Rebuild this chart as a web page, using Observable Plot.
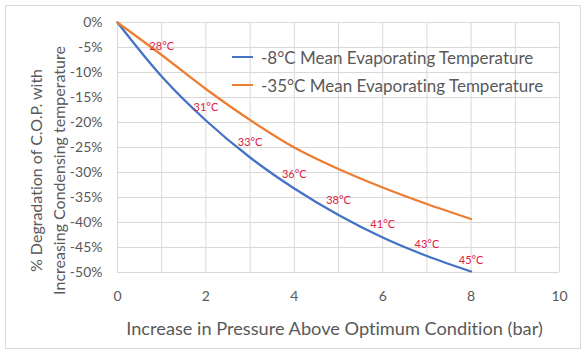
<!DOCTYPE html>
<html><head><meta charset="utf-8">
<script src="https://cdn.jsdelivr.net/npm/d3@7"></script>
<script src="https://cdn.jsdelivr.net/npm/@observablehq/plot@0.6"></script>
<style>
body{margin:0;background:#fff;}
#wrap{position:relative;width:588px;height:354px;overflow:hidden;font-family:Lato,sans-serif;font-variant-ligatures:none;}
#wrap svg text{font-variant-ligatures:none;}
#frame{position:absolute;left:5px;top:5px;width:576px;height:344px;border:1px solid #d9d9d9;box-sizing:border-box;}
#chart{position:absolute;left:0;top:0;}
.lg{position:absolute;left:232px;height:22px;display:flex;align-items:center;color:#595959;font-size:17px;white-space:nowrap;}
.sw{display:inline-block;width:21px;height:2px;margin-right:8px;}
</style></head><body>
<div id="wrap"><div id="frame"></div><div id="chart"></div><div id="legend"></div></div>
<script>
const pressure = [0, 1, 2, 3, 4, 5, 6, 7, 8];
const copEvapMinus8 = [0, -0.108, -0.196, -0.270, -0.332, -0.385, -0.430, -0.467, -0.498];
const copEvapMinus35 = [0, -0.065, -0.133, -0.195, -0.250, -0.293, -0.330, -0.363, -0.393];
const seriesNames = ["-8°C Mean Evaporating Temperature", "-35°C Mean Evaporating Temperature"];
const seriesColors = ["#4472C4", "#ED7D31"];
const condTempLabels = ["28°C", "31°C", "33°C", "36°C", "38°C", "41°C", "43°C", "45°C"];
const condLabelX = [1, 2, 3, 4, 5, 6, 7, 8];
const condLabelY = [-0.047, -0.170, -0.240, -0.303, -0.355, -0.403, -0.443, -0.475];
const xTicks = [0, 2, 4, 6, 8, 10];
const xGrid = [0, 1, 2, 3, 4, 5, 6, 7, 8, 9, 10];
const yTicks = [0, -0.05, -0.10, -0.15, -0.20, -0.25, -0.30, -0.35, -0.40, -0.45, -0.50];
const xTitle = "Increase in Pressure Above Optimum Condition (bar)";
const yTitle = "% Degradation of C.O.P. with\nIncreasing Condensing temperature";

const seriesValues = [copEvapMinus8, copEvapMinus35];
const rows = seriesNames.flatMap((s, i) => pressure.map((p, j) => ({series: s, pressure: p, value: seriesValues[i][j]})));
const labels = condTempLabels.map((t, i) => ({text: t, x: condLabelX[i], y: condLabelY[i]}));

const chart = Plot.plot({
  width: 588, height: 354,
  marginLeft: 117, marginRight: 29, marginTop: 22, marginBottom: 82,
  x: {domain: [0, 10]},
  y: {domain: [-0.5, 0]},
  color: {domain: seriesNames, range: seriesColors},
  style: {fontFamily: "Lato, sans-serif", color: "#595959", background: "transparent", overflow: "visible"},
  marks: [
    Plot.gridX(xGrid, {stroke: "#d9d9d9", strokeOpacity: 1}),
    Plot.gridY(yTicks, {stroke: "#d9d9d9", strokeOpacity: 1}),
    Plot.axisX(xTicks, {tickSize: 0, tickPadding: 19, fontSize: 14, label: null}),
    Plot.axisY(yTicks, {tickSize: 0, tickPadding: 15, fontSize: 14, label: null, tickFormat: d => `${Math.round(d * 100)}%`}),
    Plot.line(rows, {x: "pressure", y: "value", stroke: "series", z: "series", strokeWidth: 2.25, curve: "monotone-x"}),
    Plot.text(labels, {x: "x", y: "y", text: "text", fill: "#e0203f", fontSize: 11}),
    Plot.text([xTitle], {frameAnchor: "bottom", textAnchor: "middle", lineAnchor: "middle", dx: -4, dy: 57, fontSize: 18.2}),
    Plot.text([yTitle], {frameAnchor: "left", textAnchor: "middle", lineAnchor: "middle", dx: -71, dy: 23, rotate: -90, fontSize: 16, lineHeight: 1.4})
  ]
});
document.getElementById("chart").appendChild(chart);

const legend = document.getElementById("legend");
seriesNames.forEach((name, i) => {
  const row = document.createElement("div");
  row.className = "lg";
  row.style.top = (46 + i * 28) + "px";
  const sw = document.createElement("span");
  sw.className = "sw";
  sw.style.background = seriesColors[i];
  row.appendChild(sw);
  row.appendChild(document.createTextNode(name));
  legend.appendChild(row);
});
</script>
</body></html>
